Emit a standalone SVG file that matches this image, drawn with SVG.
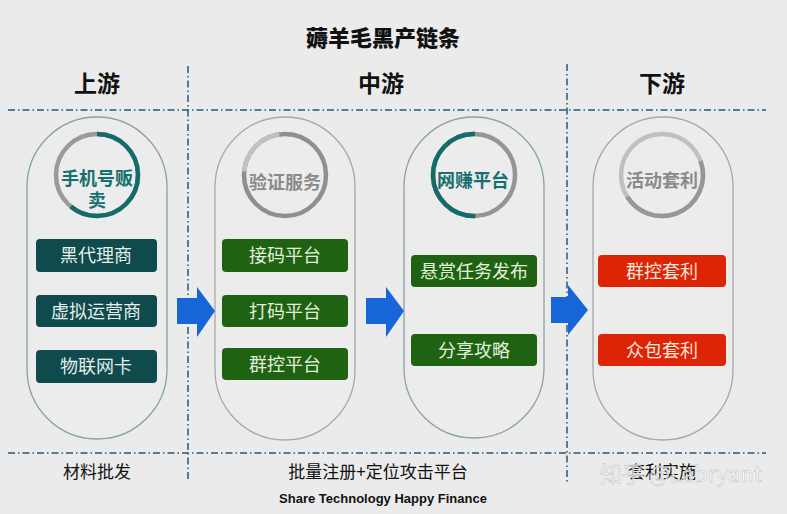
<svg xmlns="http://www.w3.org/2000/svg" width="787" height="514" viewBox="0 0 787 514">
<defs>
<style>
.t{font-family:"Noto Sans CJK SC","Noto Sans",sans-serif;text-anchor:middle}
.hd{font-size:23px;font-weight:700;fill:#111}
.ct{font-size:18px;font-weight:700}
.bx{font-size:18px}
.bt{font-size:17px;fill:#111}
.dl{stroke:#245a80;stroke-width:1.5;stroke-dasharray:7 3 1.5 3;fill:none}
.pill{fill:#ececec;stroke-width:1.3}
.ring{fill:none;stroke-width:4.5}
.arr{fill:#1766d8}
.tb{fill:#0f4a4c}
.gb{fill:#1f6212}
.rb{fill:#dd2405}
</style>
</defs>
<rect width="787" height="514" fill="#ebebeb"/>

<text class="t" x="383" y="46" style="font-size:22px;font-weight:900;fill:#111">薅羊毛黑产链条</text>

<g id="grid">
<line class="dl" x1="8" y1="110" x2="766" y2="110"/>
<line class="dl" x1="8" y1="453" x2="766" y2="453"/>
<line class="dl" x1="188" y1="66" x2="188" y2="482"/>
<line class="dl" x1="567" y1="64" x2="567" y2="482"/>
</g>

<g id="headers">
<text class="t hd" x="97" y="92">上游</text>
<text class="t hd" x="381" y="92">中游</text>
<text class="t hd" x="662" y="92">下游</text>
</g>

<g id="upstream">
<rect class="pill" x="27" y="117" width="140" height="322" rx="70" stroke="#86a3a1"/>
<circle class="ring" cx="97" cy="175" r="41" stroke="#9a9a9a"/>
<circle class="ring" cx="97" cy="175" r="41" stroke="#136b6b" stroke-dasharray="157 300" transform="rotate(-90 97 175)"/>
<text class="t ct" x="97" y="185" fill="#17706f">手机号贩</text>
<text class="t ct" x="97" y="207" fill="#17706f">卖</text>
<rect class="tb" x="36" y="239" width="121" height="33" rx="4"/>
<text class="t bx" x="96" y="262" fill="#e4eeec">黑代理商</text>
<rect class="tb" x="36" y="295" width="121" height="32" rx="4"/>
<text class="t bx" x="96" y="318" fill="#e4eeec">虚拟运营商</text>
<rect class="tb" x="36" y="350" width="121" height="33" rx="4"/>
<text class="t bx" x="96" y="373" fill="#e4eeec">物联网卡</text>
</g>

<g id="verify">
<rect class="pill" x="215" y="117" width="140" height="323" rx="70" stroke="#a8a8a8"/>
<circle class="ring" cx="285" cy="175" r="41" stroke="#8f8f8f"/>
<circle class="ring" cx="285" cy="175" r="41" stroke="#c2c2c2" stroke-dasharray="55 300" transform="rotate(185 285 175)"/>
<text class="t ct" x="285" y="189" fill="#8a8a8a">验证服务</text>
<rect class="gb" x="222" y="239" width="126" height="33" rx="4"/>
<text class="t bx" x="285" y="262" fill="#e2f0dc">接码平台</text>
<rect class="gb" x="222" y="295" width="126" height="32" rx="4"/>
<text class="t bx" x="285" y="318" fill="#e2f0dc">打码平台</text>
<rect class="gb" x="222" y="348" width="126" height="32" rx="4"/>
<text class="t bx" x="285" y="371" fill="#e2f0dc">群控平台</text>
</g>

<g id="earn">
<rect class="pill" x="404" y="117" width="140" height="321" rx="70" stroke="#8aa3a3"/>
<circle class="ring" cx="474" cy="175" r="41" stroke="#959595"/>
<circle class="ring" cx="474" cy="175" r="41" stroke="#136b6b" stroke-dasharray="131 300" transform="rotate(88 474 175)"/>
<text class="t ct" x="473" y="187" fill="#17706f">网赚平台</text>
<rect class="gb" x="411" y="255" width="126" height="32" rx="4"/>
<text class="t bx" x="474" y="278" fill="#e2f0dc">悬赏任务发布</text>
<rect class="gb" x="411" y="334" width="126" height="32" rx="4"/>
<text class="t bx" x="474" y="357" fill="#e2f0dc">分享攻略</text>
</g>

<g id="arbitrage">
<rect class="pill" x="593" y="117" width="140" height="323" rx="70" stroke="#a8a8a8"/>
<circle class="ring" cx="662" cy="175" r="41" stroke="#c0c0c0"/>
<circle class="ring" cx="662" cy="175" r="41" stroke="#979797" stroke-dasharray="120 300" transform="rotate(-20 662 175)"/>
<text class="t ct" x="662" y="187" fill="#8a8a8a">活动套利</text>
<rect class="rb" x="598" y="255" width="128" height="32" rx="4"/>
<text class="t bx" x="662" y="278" fill="#fbe6dc">群控套利</text>
<rect class="rb" x="598" y="334" width="128" height="32" rx="4"/>
<text class="t bx" x="662" y="357" fill="#fbe6dc">众包套利</text>
</g>

<g id="connectors">
<polygon class="arr" points="177,298 197,298 197,287 215,311 197,337 197,324 177,324"/>
<polygon class="arr" points="366,298 386,298 386,287 404,311 386,337 386,324 366,324"/>
<polygon class="arr" points="551,297 568,297 568,285 588,310 568,335 568,323 551,323"/>
</g>

<g id="footer">
<text class="t bt" x="97" y="478">材料批发</text>
<text class="t bt" x="378" y="478">批量注册+定位攻击平台</text>
<text class="t bt" x="662" y="478">套利实施</text>
<text class="t" x="681" y="482" style="font-size:22px;fill:#ffffff;fill-opacity:0.75;stroke:#bdbdbd;stroke-width:0.5">知乎 @Labryant</text>
<text x="383" y="503" style="font-family:'Liberation Sans',Arial,sans-serif;font-size:13px;font-weight:700;fill:#111;text-anchor:middle">Share Technology Happy Finance</text>
</g>
</svg>
